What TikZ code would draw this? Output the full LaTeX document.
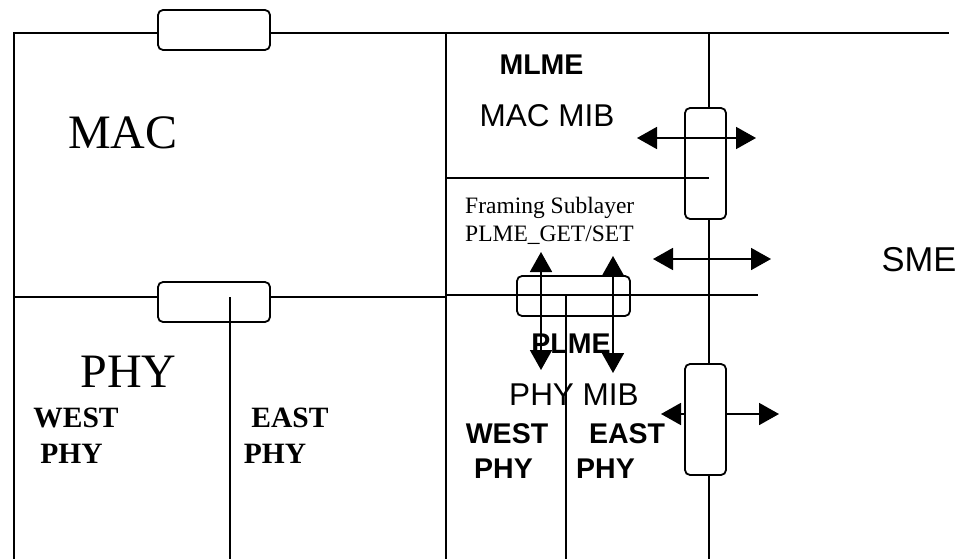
\documentclass[tikz,border=0pt]{standalone}
\usepackage{fontspec}
\setmainfont{Liberation Serif}
\newfontfamily\arial{Liberation Sans}
\usetikzlibrary{arrows.meta}
\begin{document}
\begin{tikzpicture}[x=1pt,y=-1pt,
  ln/.style={line width=1.8pt},
  rbox/.style={draw,line width=1.8pt,rounded corners=5pt,inner sep=0pt},
  wbox/.style={rbox,fill=white},
  darr/.style={line width=1.8pt,{Triangle[length=20pt,width=22pt]}-{Triangle[length=20pt,width=22pt]}},
  sarr/.style={line width=1.8pt,-{Triangle[length=20pt,width=22pt]}},
  lbl/.style={inner sep=0pt,anchor=base},
  big/.style={lbl,font=\fontsize{48}{48}\selectfont},
  tbold/.style={lbl,font=\fontsize{29.5}{30}\selectfont\bfseries},
  abold/.style={lbl,font=\arial\fontsize{28.5}{30}\selectfont\bfseries},
  areg/.style={lbl,font=\arial\fontsize{31.5}{32}\selectfont},
]
\useasboundingbox (0,0) rectangle (964,559);
% frame lines
\draw[ln] (14,559) -- (14,33) -- (158,33);
\draw[ln] (270,33) -- (949,33);
\draw[ln] (446,33) -- (446,559);
\draw[ln] (14,297) -- (446,297);
\draw[ln] (446,295) -- (758,295);
\draw[ln] (709,33) -- (709,559);
% boxes
\node[wbox,minimum width=112pt,minimum height=40pt] (topbox) at (214,30) {};
\node[wbox,minimum width=112pt,minimum height=40pt] (lbox) at (214,302) {};
\node[wbox,minimum width=41pt,minimum height=111pt] (mlmebox) at (705.5,163.5) {};
\node[wbox,minimum width=41pt,minimum height=111pt] (lowbox) at (705.5,419.5) {};
\node[rbox,minimum width=113pt,minimum height=40pt] (plmebox) at (573.5,296) {};
% inner lines
\coordinate (ltop) at (230,297);
\coordinate (lbase) at (230,559);
\coordinate (rtop) at (566,296);
\coordinate (rbase) at (566,559);
\draw[ln] (ltop) -- (lbase);
\draw[ln] (446,178) -- (709,178);
\draw[ln] (rtop) -- (rbase);
% arrows
\coordinate (m1) at (637,138); \coordinate (m2) at (756,138);
\coordinate (s1) at (653,259); \coordinate (s2) at (771,259);
\coordinate (v1a) at (541,252); \coordinate (v1b) at (541,370);
\coordinate (v2a) at (613,256); \coordinate (v2b) at (613,373);
\coordinate (la) at (661,414); \coordinate (ra) at (779,414);
\draw[darr] (m1) -- (m2);
\draw[darr] (s1) -- (s2);
\draw[darr] (v1a) -- (v1b);
\draw[darr] (v2a) -- (v2b);
\draw[sarr] (lowbox.west |- la) -- (la);
\draw[sarr] (lowbox.east |- ra) -- (ra);
% labels
\node[big] (mac) at (123,149) {MAC};
\node[big] (phy) at (128.5,387) {PHY};
\node[tbold] (lw) at (76,427) {WEST};
\node[tbold] (lwp) at (71.5,463) {PHY};
\node[tbold] (le) at (290,427) {EAST};
\node[tbold] (lep) at (275,463) {PHY};
\node[abold] (mlme) at (541.5,75) {MLME};
\node[areg] (macmib) at (547,127) {MAC MIB};
\node[inner sep=0pt,anchor=base west,align=left,font=\fontsize{23.5}{28}\selectfont] (fs) at (465,241) {Framing Sublayer\\PLME\_GET/SET};
\node[lbl,font=\arial\fontsize{34.5}{35}\selectfont] (sme) at (919,271) {SME};
\node[abold] (plme) at (571,353) {PLME};
\node[areg] (phymib) at (574,405) {PHY MIB};
\node[abold] (rw) at (507,443) {WEST};
\node[abold] (rwp) at (503.5,478) {PHY};
\node[abold] (re) at (627,443) {EAST};
\node[abold] (rep) at (605.5,478) {PHY};
\end{tikzpicture}
\end{document}
